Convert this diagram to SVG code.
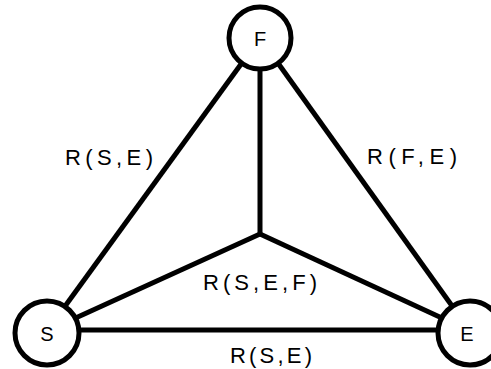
<svg xmlns="http://www.w3.org/2000/svg" width="491" height="369" viewBox="0 0 491 369">
<style>
.edge{stroke:#000;stroke-width:5;fill:none}
.node circle{fill:#fff;stroke:#000;stroke-width:5}
text{font-family:"Liberation Sans",Arial,sans-serif;font-size:22px;fill:#000}
.nl{text-anchor:middle;font-size:20px}
</style>
<rect width="491" height="369" fill="#fff"/>
<g id="connectors">
<line class="edge" x1="260" y1="38" x2="47" y2="331"/>
<line class="edge" x1="260" y1="38" x2="470" y2="331"/>
<line class="edge" x1="260" y1="38" x2="260" y2="234"/>
<line class="edge" x1="260" y1="234" x2="47" y2="331"/>
<line class="edge" x1="260" y1="234" x2="470" y2="331"/>
<line class="edge" x1="47" y1="330" x2="470" y2="330"/>
</g>
<g id="labels">
<text x="65" y="165" textLength="88" lengthAdjust="spacing">R(S,E)</text>
<text x="367" y="164" textLength="90" lengthAdjust="spacing">R(F,E)</text>
<text x="203" y="290" textLength="114" lengthAdjust="spacing">R(S,E,F)</text>
<text x="230" y="363" textLength="82" lengthAdjust="spacing">R(S,E)</text>
</g>
<g id="node-F" class="node"><circle cx="260" cy="38" r="31"/><text class="nl" x="260" y="46">F</text></g>
<g id="node-S" class="node"><circle cx="47" cy="333" r="32"/><text class="nl" x="47" y="341">S</text></g>
<g id="node-E" class="node"><circle cx="470" cy="333" r="32"/><text class="nl" x="467" y="341">E</text></g>
</svg>
